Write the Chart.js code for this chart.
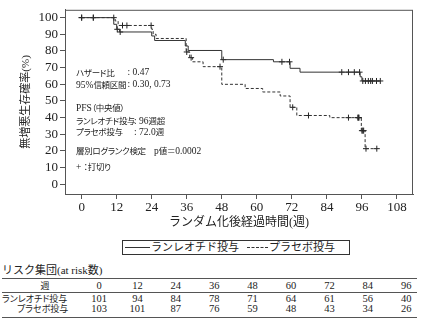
<!DOCTYPE html>
<html>
<head>
<meta charset="utf-8">
<script src="https://cdn.jsdelivr.net/npm/chart.js@4.4.0/dist/chart.umd.min.js"></script>
<style>
  body { margin: 0; background: #fff; }
  #wrap { position: relative; width: 425px; height: 323px; overflow: hidden;
          font-family: "Liberation Serif", "Noto Sans CJK JP", serif; color: #222; }
  #c { position: absolute; left: 0; top: 0; }
  .t { position: absolute; white-space: nowrap; line-height: 1; transform: translateY(-50%); }
  .j { font-family: "Noto Sans CJK JP", sans-serif; }
  .a { font-size: 9.5px; }
  .a .j { font-size: 8.5px; font-feature-settings: "palt"; letter-spacing: -0.3px; }
  .rt { font-size: 10.5px; }
  .rt .j { font-size: 9px; font-feature-settings: "palt"; }
  .hl { position: absolute; left: 2px; width: 415px; border-top: 1px solid #555; }
</style>
</head>
<body>
<div id="wrap">
  <canvas id="c" width="425" height="235"></canvas>
</div>
<script>
  // axis ticks
  const xTicks = [0, 12, 24, 36, 48, 60, 72, 84, 96, 108];
  const yTicks = [0, 10, 20, 30, 40, 50, 60, 70, 80, 90, 100];

  // Kaplan-Meier steps (week, survival %)
  const lanT = [0, 11, 12, 13, 24, 25, 35.5, 36.5, 48, 65.7, 71.4, 74.8, 95.4, 96, 102.3];
  const lanS = [100, 96, 93, 91.4, 89, 86.3, 83, 80.3, 74.8, 73.5, 69.6, 67.3, 64.5, 62, 62];
  const lanCens = [0, 4, 12.2, 13.2, 48.5, 68.6, 71.2, 89.1, 91.4, 93.4, 95.2, 96.3, 97.2, 98.2, 99, 99.6, 101, 102.3];

  const plaT = [0, 11.5, 12.5, 24, 24.5, 25.5, 35.8, 37, 38, 41.6, 48, 56, 62, 68, 71.4, 73.7, 85, 95.8, 97.1, 101.1];
  const plaS = [100, 98, 95.3, 93, 90, 87.5, 79.4, 76, 73.5, 70.6, 60, 57.5, 55.4, 53, 46.2, 41.3, 40, 32.2, 21.4, 21.4];
  const plaCens = [0, 4, 11, 14, 15.5, 23.8, 36, 37.5, 47.4, 72.3, 77.7, 91.4, 94.6, 94.8, 95.0, 96.0, 96.3, 96.6, 97.4, 101.1];

  // number at risk table
  const riskWeeks = [0, 12, 24, 36, 48, 60, 72, 84, 96];
  const lanRisk = [101, 94, 84, 78, 71, 64, 61, 56, 40];
  const plaRisk = [103, 101, 87, 76, 59, 48, 43, 34, 26];

  const armNames = ['ランレオチド投与', 'プラセボ投与'];
  const notes = [
    ['ハザード比', ': 0.47'],
    ['95%信頼区間', ': 0.30, 0.73'],
    ['PFS（中央値）', ''],
    ['ランレオチド投与', ': 96週超'],
    ['プラセボ投与', ': 72.0週'],
    ['層別ログランク検定　p値＝0.0002', ''],
    ['+ ：打切り', '']
  ];

  function steps(T, S) {
    return T.map((t, i) => ({ x: t, y: S[i] }));
  }
  function survAt(T, S, t) {
    let s = S[0];
    for (let i = 0; i < T.length; i++) if (T[i] <= t) s = S[i];
    return s;
  }
  function cens(times, T, S) {
    return times.map(t => ({ x: t, y: survAt(T, S, t) }));
  }
  // wrap runs of CJK chars so they get the CJK font
  function jp(s) {
    return s.replace(/([\u3000-\u30ff\u4e00-\u9fff\uff00-\uffef]+)/g, '<span class="j">$1</span>');
  }

  const wrap = document.getElementById('wrap');
  function addText(html, cls, x, y, extra) {
    const d = document.createElement('div');
    d.className = 't ' + cls;
    d.style.left = x + 'px';
    d.style.top = y + 'px';
    if (extra) Object.assign(d.style, extra);
    d.innerHTML = jp(html);
    wrap.appendChild(d);
    return d;
  }

  const boxPlugin = {
    id: 'box',
    afterDraw(chart) {
      const { ctx, chartArea: a } = chart;
      ctx.save();
      ctx.strokeStyle = '#555';
      ctx.lineWidth = 1;
      ctx.strokeRect(a.left + 0.5, a.top + 0.5, a.right - a.left - 1, a.bottom - a.top);
      ctx.restore();
    }
  };

  const serif = '"Liberation Serif", "Noto Sans CJK JP"';
  const lineCol = '#333';

  new Chart(document.getElementById('c'), {
    type: 'line',
    data: {
      datasets: [
        { data: steps(lanT, lanS), borderColor: lineCol, borderWidth: 1, stepped: true, pointRadius: 0, fill: false },
        { data: steps(plaT, plaS), borderColor: lineCol, borderWidth: 1, borderDash: [3, 2], stepped: true, pointRadius: 0, fill: false },
        { data: cens(lanCens, lanT, lanS), showLine: false, pointStyle: 'cross', pointRadius: 3, borderColor: '#222', borderWidth: 1 },
        { data: cens(plaCens, plaT, plaS), showLine: false, pointStyle: 'cross', pointRadius: 3, borderColor: '#222', borderWidth: 1 }
      ]
    },
    options: {
      responsive: false,
      animation: false,
      devicePixelRatio: 1,
      layout: { padding: { top: 5, right: 12, left: 0, bottom: 0 } },
      plugins: { legend: { display: false }, tooltip: { enabled: false } },
      scales: {
        x: {
          type: 'linear',
          min: -5.7,
          max: 113.5,
          afterBuildTicks: s => { s.ticks = xTicks.map(v => ({ value: v })); },
          afterFit: s => { s.height = 41; },
          grid: { drawOnChartArea: false, tickLength: 5, color: '#555' },
          border: { color: '#555' },
          ticks: { font: { family: serif, size: 13 }, color: '#222', padding: 1, maxRotation: 0, autoSkip: false },
          title: { display: true, text: 'ランダム化後経過時間(週)', font: { family: serif, size: 12 }, color: '#222', padding: { bottom: 5 } }
        },
        y: {
          min: -5.8,
          max: 104.7,
          afterBuildTicks: s => { s.ticks = yTicks.map(v => ({ value: v })); },
          afterFit: s => { s.width = 65; },
          grid: { drawOnChartArea: false, tickLength: 5, color: '#555' },
          border: { color: '#555' },
          ticks: { font: { family: serif, size: 13 }, color: '#222', padding: 2, autoSkip: false },
          title: { display: true, text: '無増悪生存確率(%)', font: { family: serif, size: 11 }, color: '#222', padding: { top: 20 } }
        }
      }
    },
    plugins: [boxPlugin]
  });

  // notes inside the plot
  const noteY = [73.3, 85, 108.3, 120.7, 131.7, 150.7, 167.3];
  const valX = [127.5, 127.5, 0, 134, 134, 0, 0];
  notes.forEach((n, i) => {
    addText(n[0], 'a', 76, noteY[i]);
    if (n[1]) addText(n[1], 'a', valX[i], noteY[i]);
  });

  // legend box
  const lg = document.createElement('div');
  Object.assign(lg.style, { position: 'absolute', left: '122px', top: '240px', width: '226px', height: '13px', border: '1px solid #333' });
  wrap.appendChild(lg);
  const solid = document.createElement('div');
  Object.assign(solid.style, { position: 'absolute', left: '125px', top: '247px', width: '25px', borderTop: '1px solid #333' });
  wrap.appendChild(solid);
  const dash = document.createElement('div');
  Object.assign(dash.style, { position: 'absolute', left: '247px', top: '247px', width: '21px', borderTop: '1px dashed #333' });
  wrap.appendChild(dash);
  addText(armNames[0], '', 151, 247, { fontSize: '11px' });
  addText(armNames[1], '', 269, 247, { fontSize: '11px' });

  // risk table
  addText('リスク集団(at risk数)', '', 2, 270, { fontSize: '11px' });
  [278, 291.5, 316.5].forEach((y, i) => {
    const h = document.createElement('div');
    h.className = 'hl';
    h.style.top = y + 'px';
    if (i !== 1) h.style.borderTopWidth = '1.5px';
    wrap.appendChild(h);
  });
  const colX = i => 99 + i * 38.4;
  const rowY = [285.5, 298.5, 308.5];
  addText('週', 'rt', 45, rowY[0], { transform: 'translate(-50%,-50%)' });
  addText(armNames[0], 'rt', 2, rowY[1]);
  addText(armNames[1], 'rt', 17, rowY[2]);
  riskWeeks.forEach((w, i) => {
    const c = { transform: 'translate(-50%,-50%)' };
    addText(String(w), 'rt', colX(i), rowY[0], c);
    addText(String(lanRisk[i]), 'rt', colX(i), rowY[1], c);
    addText(String(plaRisk[i]), 'rt', colX(i), rowY[2], c);
  });
</script>
</body>
</html>
